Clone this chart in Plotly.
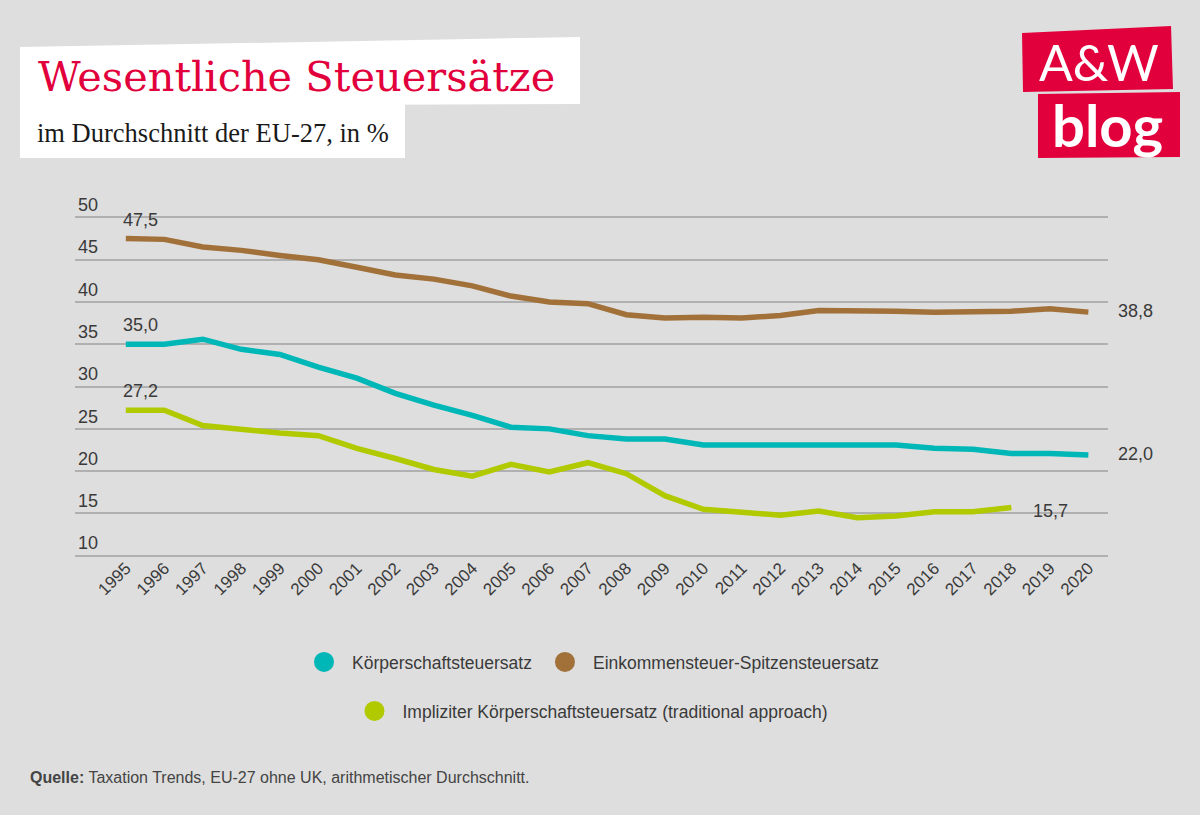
import plotly.graph_objects as go

years = list(range(1995, 2021))
koerperschaft = [35.0, 35.0, 35.6, 34.4, 33.8, 32.3, 31.0, 29.2, 27.8, 26.6, 25.2, 25.0, 24.2,
                 23.8, 23.8, 23.1, 23.1, 23.1, 23.2, 23.1, 23.1, 22.7, 22.6, 22.1, 22.1, 21.9]
einkommen = [47.5, 47.4, 46.5, 46.1, 45.5, 45.0, 44.1, 43.2, 42.7, 41.9, 40.7, 40.0, 39.8,
             38.5, 38.1, 38.2, 38.1, 38.4, 39.0, 39.0, 38.9, 38.8, 38.9, 38.9, 39.2, 38.8]
impl_years = list(range(1995, 2019))
impliziter = [27.2, 27.2, 25.4, 24.9, 24.5, 24.2, 22.7, 21.5, 20.2, 19.4, 20.8, 19.9, 21.0,
              19.7, 17.1, 15.5, 15.2, 14.8, 15.3, 14.5, 14.7, 15.2, 15.2, 15.7]

series_names = ["Körperschaftsteuersatz", "Einkommensteuer-Spitzensteuersatz",
                "Impliziter Körperschaftsteuersatz (traditional approach)"]
colors = ["#00B7B7", "#A2713A", "#B1CA00"]
y_ticks = [10, 15, 20, 25, 30, 35, 40, 45, 50]

start_labels = ["35,0", "47,5", "27,2"]
end_labels = ["22,0", "38,8", "15,7"]

title = "Wesentliche Steuersätze"
subtitle = "im Durchschnitt der EU-27, in %"
source = "<b>Quelle:</b> Taxation Trends, EU-27 ohne UK, arithmetischer Durchschnitt."

# pixel geometry of plot area
Y_RANGE = [9.5, 53.0]
L, R = 75, 1108
K = 8.46                      # px per unit
Y10 = 555.7                   # pixel of y=10
T = Y10 - (Y_RANGE[1] - 10) * K
B = Y10 + (10 - Y_RANGE[0]) * K
W, H = 1200, 815


def px(x):
    return (x - L) / (R - L)


def py(y):
    return (B - y) / (B - T)


SANS = "Liberation Sans, Arial, sans-serif"
TXT = "#3a3a3a"

fig = go.Figure()
data = [(years, koerperschaft), (years, einkommen), (impl_years, impliziter)]
for i, (xs, ys) in enumerate(data):
    fig.add_trace(go.Scatter(x=xs, y=ys, mode="lines", name=series_names[i],
                             line=dict(color=colors[i], width=5.5),
                             showlegend=False, hoverinfo="x+y"))

# legend entries (circles)
for i in range(3):
    fig.add_trace(go.Scatter(x=[None], y=[None], mode="markers", name=series_names[i],
                             marker=dict(color=colors[i], size=22, symbol="circle",
                                         line=dict(color=colors[i], width=4)),
                             legend="legend" if i < 2 else "legend2", showlegend=True))

annotations = []
for i, (xs, ys) in enumerate(data):
    annotations.append(dict(x=xs[0], y=ys[0], xref="x", yref="y", text=start_labels[i],
                            showarrow=False, xanchor="left", yanchor="bottom",
                            xshift=-5, yshift=7, font=dict(family=SANS, size=18, color=TXT)))
    annotations.append(dict(x=xs[-1], y=ys[-1], xref="x", yref="y", text=end_labels[i],
                            showarrow=False, xanchor="left", yanchor="middle",
                            xshift=28 if i < 2 else 20, yshift=1 if i < 2 else -3,
                            font=dict(family=SANS, size=18, color=TXT)))

# title block
annotations.append(dict(x=px(36), y=py(76), xref="paper", yref="paper", text=title,
                        showarrow=False, xanchor="left", yanchor="middle",
                        font=dict(family="DejaVu Serif, serif", size=41.5, color="#E2003C")))
annotations.append(dict(x=px(35), y=py(133), xref="paper", yref="paper", text=subtitle,
                        showarrow=False, xanchor="left", yanchor="middle",
                        font=dict(family="Liberation Serif, serif", size=26.5, color="#1a1a1a")))
# logo
annotations.append(dict(x=px(1099), y=py(62), xref="paper", yref="paper", text="A&amp;W",
                        showarrow=False, xanchor="center", yanchor="middle",
                        font=dict(family="Lato, Roboto, sans-serif", size=50, color="white")))
annotations.append(dict(x=px(1107), y=py(124), xref="paper", yref="paper", text="<b>blog</b>",
                        showarrow=False, xanchor="center", yanchor="middle",
                        font=dict(family="Lato, Roboto, sans-serif", size=58, color="white")))
# source
annotations.append(dict(x=px(28), y=py(777), xref="paper", yref="paper", text=source,
                        showarrow=False, xanchor="left", yanchor="middle",
                        font=dict(family=SANS, size=16, color="#444444")))


def path(pts):
    return "M " + " L ".join(f"{px(a):.5f},{py(b):.5f}" for a, b in pts) + " Z"


shapes = [
    dict(type="path", xref="paper", yref="paper", layer="below",
         path=path([(20, 47), (580, 37), (580, 104), (20, 106)]),
         fillcolor="white", line=dict(width=0)),
    dict(type="path", xref="paper", yref="paper", layer="below",
         path=path([(20, 104), (405, 104), (405, 158), (20, 158)]),
         fillcolor="white", line=dict(width=0)),
    dict(type="path", xref="paper", yref="paper", layer="below",
         path=path([(1022, 33), (1171, 26), (1173, 89), (1023, 92)]),
         fillcolor="#E2003C", line=dict(width=0)),
    dict(type="path", xref="paper", yref="paper", layer="below",
         path=path([(1038, 94), (1180, 92), (1180, 157), (1038, 158)]),
         fillcolor="#E2003C", line=dict(width=0)),
]

fig.update_layout(
    width=W, height=H,
    margin=dict(l=L, r=W - R, t=T, b=H - B, autoexpand=False),
    paper_bgcolor="#DEDEDE", plot_bgcolor="#DEDEDE",
    font=dict(family=SANS, color=TXT),
    xaxis=dict(range=[1993.68, 2020.51], tickmode="array", tickvals=years,
               ticktext=[str(y) for y in years], tickangle=-45, showgrid=False,
               zeroline=False, showline=False, ticks="", ticklabelstandoff=-6,
               tickfont=dict(family=SANS, size=17, color=TXT)),
    yaxis=dict(range=Y_RANGE, tickmode="array", tickvals=y_ticks,
               ticktext=[str(v) for v in y_ticks], ticklabelposition="inside top",
               showgrid=True, gridcolor="#B0B0B0", gridwidth=1.5, zeroline=False,
               showline=False, ticks="", tickfont=dict(family=SANS, size=18, color=TXT)),
    legend=dict(orientation="h", x=px(590), y=py(662), xanchor="center", yanchor="middle",
                bgcolor="rgba(0,0,0,0)", font=dict(family=SANS, size=17.5, color=TXT),
                itemsizing="trace", itemwidth=46),
    legend2=dict(orientation="h", x=px(590), y=py(711), xanchor="center", yanchor="middle",
                 bgcolor="rgba(0,0,0,0)", font=dict(family=SANS, size=17.5, color=TXT),
                 itemsizing="trace", itemwidth=46),
    annotations=annotations,
    shapes=shapes,
    hovermode="closest",
)

fig.write_html("out.html")
